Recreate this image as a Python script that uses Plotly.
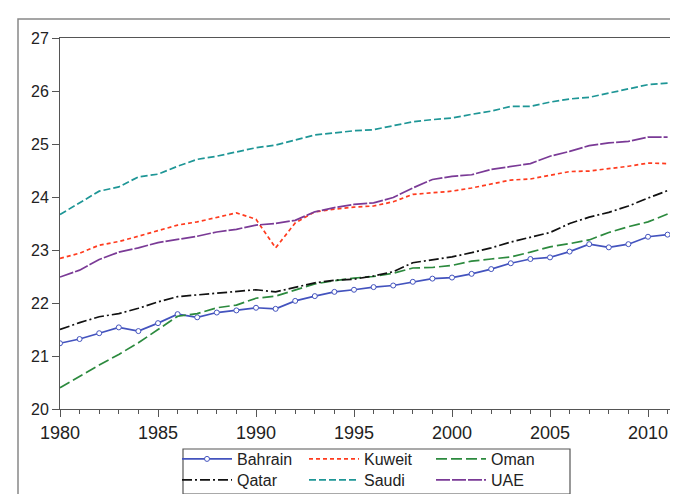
import plotly.graph_objects as go

years = list(range(1980, 2012))

bahrain = [21.24, 21.32, 21.43, 21.54, 21.47, 21.62, 21.79, 21.73, 21.82, 21.86,
           21.91, 21.89, 22.04, 22.13, 22.21, 22.25, 22.30, 22.33, 22.40, 22.46,
           22.48, 22.55, 22.64, 22.75, 22.83, 22.86, 22.97, 23.11, 23.05, 23.11,
           23.25, 23.29]
kuwait = [22.84, 22.94, 23.09, 23.16, 23.26, 23.37, 23.47, 23.53, 23.61, 23.70,
          23.58, 23.04, 23.51, 23.72, 23.77, 23.81, 23.83, 23.91, 24.05, 24.08,
          24.11, 24.17, 24.24, 24.32, 24.34, 24.41, 24.48, 24.49, 24.53, 24.58,
          24.64, 24.63]
oman = [20.40, 20.62, 20.83, 21.03, 21.25, 21.50, 21.75, 21.80, 21.91, 21.96,
        22.09, 22.13, 22.24, 22.36, 22.42, 22.47, 22.50, 22.56, 22.66, 22.67,
        22.71, 22.79, 22.83, 22.87, 22.96, 23.06, 23.12, 23.19, 23.33, 23.44,
        23.53, 23.68]
qatar = [21.50, 21.63, 21.74, 21.80, 21.90, 22.02, 22.12, 22.15, 22.18, 22.21,
         22.25, 22.21, 22.30, 22.38, 22.43, 22.45, 22.51, 22.59, 22.76, 22.81,
         22.87, 22.95, 23.04, 23.15, 23.24, 23.33, 23.50, 23.62, 23.71, 23.83,
         23.98, 24.12]
saudi = [23.67, 23.89, 24.11, 24.19, 24.38, 24.43, 24.58, 24.71, 24.77, 24.85,
         24.93, 24.98, 25.07, 25.17, 25.21, 25.25, 25.27, 25.34, 25.42, 25.46,
         25.49, 25.56, 25.62, 25.71, 25.71, 25.79, 25.85, 25.88, 25.96, 26.03,
         26.12, 26.15]
uae = [22.49, 22.62, 22.82, 22.96, 23.04, 23.14, 23.20, 23.26, 23.34, 23.39,
       23.47, 23.50, 23.56, 23.72, 23.80, 23.86, 23.89, 23.99, 24.17, 24.33,
       24.39, 24.42, 24.52, 24.57, 24.63, 24.77, 24.86, 24.97, 25.02, 25.05,
       25.13, 25.13]

x_tick_vals = [1980, 1985, 1990, 1995, 2000, 2005, 2010]
y_tick_vals = [20, 21, 22, 23, 24, 25, 26, 27]

W, H = 678, 494
ML, MR, MT, MB = 52, 1, 30, 93
PW, PH = W - ML - MR, H - MT - MB

def px_x(p):
    return (p - ML) / PW

def px_y(p):
    return (H - MB - p) / PH

fig = go.Figure()

series = [
    ("Bahrain", bahrain, "#4353BE", "solid", "legend"),
    ("Kuweit", kuwait, "#FF3B1E", "4px,3px", "legend"),
    ("Oman", oman, "#2C8A3E", "11px,4px", "legend"),
    ("Qatar", qatar, "#111111", "10px,3px,2px,3px", "legend2"),
    ("Saudi", saudi, "#1E9696", "7px,3px", "legend2"),
    ("UAE", uae, "#7A3A96", "14px,2px", "legend2"),
]

for name, vals, color, dash, lg in series:
    if name == "Bahrain":
        kw = dict(mode="lines+markers",
                  marker=dict(symbol="circle", size=5, color="white",
                              line=dict(color=color, width=1)))
    else:
        kw = dict(mode="lines")
    fig.add_trace(go.Scatter(x=years, y=vals, name=name, legend=lg,
                             line=dict(color=color, width=1.7, dash=dash), **kw))

legend_font = dict(family="Liberation Sans, Arial, sans-serif", size=16, color="#222")

fig.update_layout(
    width=W, height=H,
    margin=dict(l=ML, r=MR, t=MT, b=MB, pad=0),
    paper_bgcolor="white", plot_bgcolor="white",
    font=dict(family="Liberation Sans, Arial, sans-serif", color="#222"),
    xaxis=dict(range=[1980, 1980 + PW / 19.6], tickvals=x_tick_vals,
               ticks="outside", ticklen=7, tickcolor="#555", tickwidth=1,
               minor=dict(dtick=1, tick0=1980, ticks="outside", ticklen=4,
                          tickcolor="#555", tickwidth=1),
               showline=True, linecolor="#555", linewidth=1, mirror=True,
               showgrid=False, zeroline=False,
               tickfont=dict(family="Liberation Sans, Arial, sans-serif",
                             size=18, color="#222")),
    yaxis=dict(range=[20, 27], tickvals=y_tick_vals,
               ticks="outside", ticklen=7, tickcolor="#555", tickwidth=1,
               showline=True, linecolor="#555", linewidth=1, mirror=True,
               showgrid=False, zeroline=False,
               tickfont=dict(family="Liberation Sans, Arial, sans-serif",
                             size=16, color="#222")),
    legend=dict(orientation="h", x=px_x(169), xanchor="left",
                y=px_y(434), yanchor="top", entrywidth=62, itemwidth=50,
                bgcolor="rgba(0,0,0,0)", borderwidth=0, font=legend_font),
    legend2=dict(orientation="h", x=px_x(169), xanchor="left",
                 y=px_y(455), yanchor="top", entrywidth=62, itemwidth=50,
                 bgcolor="rgba(0,0,0,0)", borderwidth=0, font=legend_font),
    showlegend=True,
)

# outer frame and legend box
fig.add_shape(type="rect", xref="paper", yref="paper",
              x0=px_x(10), x1=px_x(700), y0=px_y(520), y1=px_y(11),
              line=dict(color="#888", width=1.5), layer="below")
fig.add_shape(type="rect", xref="paper", yref="paper",
              x0=px_x(175), x1=px_x(562), y0=px_y(486), y1=px_y(441),
              line=dict(color="#555", width=1.2), layer="below")

fig.write_html("out.html")
